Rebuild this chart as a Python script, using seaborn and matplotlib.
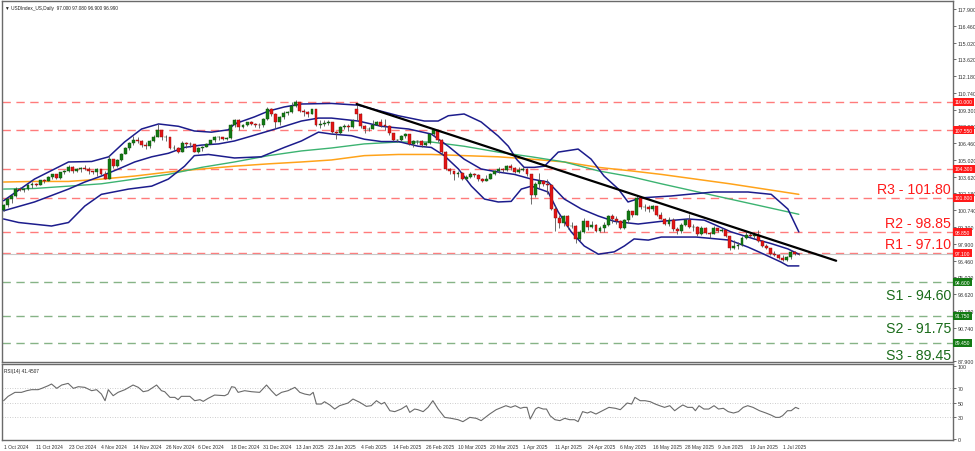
import numpy as np
import pandas as pd
import matplotlib
matplotlib.use("Agg")
import matplotlib.pyplot as plt
import seaborn as sns

sns.set_theme(style="white")
plt.rcParams['font.family'] = ['Liberation Sans', 'DejaVu Sans']

# ---------------- data ----------------
opens = [100.78,101.19,101.68,101.99,102.52,102.49,102.54,102.92,102.99,102.90,103.29,103.25,103.59,103.83,103.49,104.01,104.08,104.41,104.05,104.26,
         104.32,104.29,104.07,103.98,104.28,103.87,103.43,105.08,104.48,104.99,105.54,106.01,106.49,106.77,106.68,106.27,106.21,106.66,107.03,107.55,
         106.95,106.98,106.06,106.08,105.74,106.46,106.36,106.35,105.72,106.06,106.15,106.41,106.70,106.95,106.99,106.85,106.93,107.99,108.41,107.83,
         108.04,108.26,108.13,108.00,107.98,108.49,109.39,108.92,108.26,108.67,109.07,109.15,109.65,109.94,109.24,109.08,108.97,109.35,108.04,108.08,
         108.22,108.27,107.44,107.35,107.86,107.93,107.80,109.40,108.91,107.96,107.63,107.71,108.04,108.30,107.95,107.94,107.30,106.71,106.75,107.09,
         107.23,106.39,106.62,106.66,106.32,106.45,107.24,107.56,106.75,105.74,104.28,104.08,103.84,103.90,103.44,103.61,103.83,103.72,103.40,103.26,
         103.40,103.85,104.09,104.26,104.19,104.55,104.33,104.04,104.21,104.23,103.80,102.07,103.02,103.26,102.96,102.89,100.86,100.10,99.63,100.22,
         99.38,99.38,98.28,98.91,99.84,99.31,99.47,98.99,99.22,99.47,100.26,99.98,99.80,99.24,99.88,100.64,100.34,101.79,101.03,101.05,
         100.84,101.09,100.35,100.04,99.55,99.95,99.11,98.94,99.52,99.89,99.28,99.33,98.70,99.24,98.77,98.76,99.19,99.00,99.09,98.55,
         97.55,97.70,97.75,98.40,98.60,98.55,98.60,98.10,97.70,97.50,97.00,96.95,96.70,96.50,96.72,97.18,97.00]
highs = [101.25,101.78,102.09,102.70,102.69,102.62,103.01,103.16,103.06,103.36,103.42,103.66,103.87,103.86,104.03,104.15,104.57,104.48,104.33,104.44,
         104.63,104.40,104.13,104.38,104.30,104.06,105.44,105.10,105.08,105.60,106.14,106.53,107.07,107.00,106.69,106.58,106.73,107.13,108.07,107.58,
         107.18,107.03,106.27,106.11,106.63,106.52,106.52,106.41,106.16,106.22,106.48,106.76,107.08,107.06,107.03,107.00,108.09,108.54,108.48,108.09,
         108.28,108.38,108.19,108.15,108.58,109.55,109.42,109.00,108.74,109.20,109.23,109.97,110.17,110.01,109.41,109.20,109.40,109.40,108.45,108.40,
         108.45,108.30,107.48,107.95,108.06,108.13,108.55,109.88,109.00,108.05,107.85,108.40,108.37,108.49,108.52,108.00,107.35,106.82,107.16,107.32,
         107.25,106.69,106.77,106.70,106.60,107.28,107.65,107.60,106.82,105.79,104.38,104.10,104.08,104.00,103.74,103.97,103.88,103.81,103.50,103.79,
         103.96,104.18,104.43,104.36,104.60,104.68,104.41,104.42,104.42,104.38,103.83,103.15,103.88,103.34,103.39,102.95,101.07,100.30,100.30,100.31,
         99.78,99.49,99.02,100.06,99.85,99.86,99.58,99.40,99.76,100.38,100.40,100.24,99.90,99.98,100.86,100.70,101.98,101.80,101.26,101.16,
         101.20,101.10,100.59,100.10,100.16,100.05,99.30,99.64,100.03,100.39,99.58,99.38,99.38,99.30,98.91,99.39,99.22,99.27,99.12,98.57,
         98.20,98.02,98.55,98.85,98.84,98.90,99.05,98.25,97.90,97.55,97.25,97.05,96.95,96.85,97.35,97.25,97.08]
lows = [100.72,101.05,101.40,101.85,102.36,102.34,102.44,102.68,102.80,102.88,103.05,103.20,103.44,103.42,103.43,103.87,104.02,103.95,103.98,104.01,
        104.17,103.87,103.81,103.65,103.79,103.37,103.40,104.32,104.44,104.93,105.52,105.84,106.34,106.50,106.14,105.97,106.08,106.55,106.96,106.73,
        106.65,105.99,105.92,105.61,105.72,106.05,106.13,105.67,105.63,105.77,106.12,106.36,106.54,106.73,106.70,106.75,106.86,107.84,107.62,107.76,
        107.96,108.05,107.83,107.73,107.85,108.46,108.81,107.75,108.03,108.51,108.86,109.02,109.53,109.15,108.75,108.69,108.93,107.92,107.77,107.94,
        107.97,107.30,106.86,107.27,107.63,107.50,107.73,108.40,107.78,107.30,107.48,107.65,107.98,107.88,107.60,107.20,106.62,106.56,106.67,106.93,
        106.34,106.12,106.38,106.12,106.20,106.38,107.11,106.60,105.53,104.16,103.87,103.30,103.55,103.34,103.35,103.50,103.59,103.28,103.19,103.21,
        103.37,103.74,103.95,104.03,104.13,104.20,103.92,103.95,104.05,103.65,101.26,101.88,102.68,102.78,102.15,100.78,99.01,99.20,99.38,99.16,
        99.21,97.92,98.14,98.83,99.10,99.25,98.87,98.92,98.93,99.40,99.65,99.58,99.17,99.15,99.67,100.15,100.30,100.86,100.67,100.56,
        100.71,100.25,99.97,99.48,99.41,98.97,98.69,98.79,99.43,99.21,99.00,98.58,98.60,98.70,98.37,98.68,98.86,98.85,98.48,97.35,
        97.40,97.45,97.70,98.28,98.45,98.32,98.00,97.60,97.40,96.90,96.85,96.55,96.38,96.45,96.60,96.95,96.90]
closes = [101.19,101.68,101.99,102.52,102.49,102.54,102.92,102.99,102.90,103.29,103.25,103.59,103.83,103.49,104.01,104.08,104.41,104.05,104.26,104.32,
          104.29,104.07,103.98,104.28,103.87,103.43,105.08,104.48,104.99,105.54,106.01,106.49,106.77,106.68,106.27,106.21,106.66,107.03,107.55,106.95,
          106.98,106.06,106.08,105.74,106.46,106.36,106.35,105.72,106.06,106.15,106.41,106.70,106.95,106.99,106.85,106.93,107.99,108.41,107.83,108.04,
          108.26,108.13,108.00,107.98,108.49,109.39,108.92,108.26,108.67,109.07,109.15,109.65,109.94,109.24,109.08,108.97,109.35,108.04,108.08,108.22,
          108.27,107.44,107.35,107.86,107.93,107.80,108.37,108.91,107.96,107.63,107.71,108.04,108.30,107.95,107.94,107.30,106.71,106.75,107.09,107.23,
          106.39,106.62,106.66,106.32,106.45,107.24,107.56,106.75,105.74,104.28,104.08,103.84,103.90,103.44,103.61,103.83,103.72,103.40,103.26,103.40,
          103.85,104.09,104.26,104.19,104.55,104.33,104.04,104.21,104.23,103.80,102.07,103.02,103.26,102.96,102.89,100.86,100.10,99.63,100.22,99.38,
          99.38,98.28,98.91,99.84,99.31,99.47,98.99,99.22,99.47,100.26,99.98,99.80,99.24,99.88,100.64,100.34,101.79,101.03,101.05,100.84,
          101.09,100.35,100.04,99.55,99.95,99.11,98.94,99.52,99.89,99.28,99.33,98.70,99.24,98.77,98.76,99.19,99.00,99.09,98.55,97.55,
          97.70,97.75,98.40,98.60,98.55,98.60,98.10,97.70,97.50,97.00,96.95,96.70,96.50,96.72,97.18,97.00,96.99]

date_labels = ["1 Oct 2024", "11 Oct 2024", "23 Oct 2024", "4 Nov 2024", "14 Nov 2024", "26 Nov 2024",
               "6 Dec 2024", "18 Dec 2024", "31 Dec 2024", "13 Jan 2025", "23 Jan 2025", "4 Feb 2025",
               "14 Feb 2025", "26 Feb 2025", "10 Mar 2025", "20 Mar 2025", "1 Apr 2025", "11 Apr 2025",
               "24 Apr 2025", "6 May 2025", "16 May 2025", "28 May 2025", "9 Jun 2025", "19 Jun 2025", "1 Jul 2025"]
date_label_bars = [0, 8, 16, 24, 32, 40, 48, 56, 64, 72, 80, 88, 96, 104, 112, 120, 128, 136, 144, 152, 160, 168, 176, 184, 192]

bb_up_bar = [0,7.6,16,21.7,25.9,29.8,34,38.2,43.1,47,51.2,55.4,56.9,61.8,65.3,69.2,73.4,80.8,87.4,97.3,103.7,107.1,109.6,113.5,117.7,
             121.9,124.4,126.4,128.3,130.8,133.3,136.7,141.6,144.8,148,151.5,153.9,157.1,164.5,168.7,175.1,183.5,189.2,193.3,196]
bb_up = [101.56,103.4,104.86,104.9,105.3,106.56,107.67,108.1,107.9,107.5,107.4,107.6,108.1,108.7,109.2,109.55,109.8,109.85,109.7,108.8,108.35,108.35,108.8,108.95,108.27,
         107.07,106.2,105.1,104.4,104.4,104.5,105.7,105.96,105.1,103.66,102.56,101.45,101.8,101.96,102.1,102.3,102.3,102.1,100.85,98.9]
bb_mid_bar = [0,7.6,16,20,24.1,28.3,32.3,36.5,40.6,44.6,48.8,53,56.9,61.1,65.3,69.2,73.4,77.6,80.8,87.4,93.1,99.8,105.4,109.6,113.5,
              117.7,121.9,125.9,130.1,134.2,138.2,142.4,146.6,150.5,153,156.4,162.1,168.7,172.7,179.3,185,189.2,193.3,196]
bb_mid = [100.7,101.45,102.55,103.15,103.66,104.26,104.86,105.3,105.6,106.1,106.3,106.4,106.65,107.07,107.5,107.9,108.35,108.6,108.6,108.35,107.9,107.67,107.24,106.2,105.1,
          104.26,104.0,103.8,103.4,103.15,101.7,100.85,100.25,99.8,99.7,99.57,99.8,100.0,99.9,98.9,98.3,97.9,97.45,97.0]
bb_low_bar = [0,3.7,11.8,16,20,24.1,30.8,36.5,40.6,44.6,47,50.5,56.9,63.5,69.2,73.4,77.6,80.8,85.7,88.9,93.1,97.3,102.2,105.4,108.6,
              112.1,115.3,118.5,121.9,125.1,127.6,130.1,134.2,136.7,139.9,143.1,146.6,150.5,153,155.4,158.9,162.1,170.7,178.9,183.5,187.4,191.6,193.3,196]
bb_low = [100.0,99.7,99.4,99.7,101.1,102.1,102.55,102.8,103.4,104.5,105.4,105.5,105.2,105.3,106.1,106.65,107.4,107.24,107.1,106.8,106.6,106.6,106.2,106.1,105.4,
          104.26,102.8,101.7,101.45,101.5,102.55,102.8,102.3,100.6,98.9,97.7,97.0,97.2,97.7,98.3,98.2,98.46,98.46,98.2,97.6,97.0,96.33,96.0,96.0]

ma_green_bar = [0,7.6,16,24.1,32.3,40.6,48.8,56.9,65.3,73.4,80.8,88.9,97.3,105.4,113.5,121.9,130.1,138.2,146.6,154.7,162.1,179,196]
ma_green = [102.55,102.6,102.8,103.0,103.4,103.8,104.4,104.86,105.4,105.8,106.05,106.4,106.56,106.56,106.2,105.7,105.3,104.86,104.1,103.6,103.0,101.7,100.4]
ma_orange_bar = [0,7.6,16,24.1,32.3,40.6,48.8,56.9,65.3,73.4,80.8,88.9,97.3,105.4,113.5,121.9,130.1,138.2,146.6,154.7,162.1,179,196]
ma_orange = [103.15,103.2,103.2,103.4,103.66,104.0,104.26,104.5,104.7,104.86,105.03,105.4,105.5,105.5,105.4,105.3,105.1,104.86,104.4,104.1,103.8,103.0,102.1]

trend_bar = [87, 205.2]
trend_val = [109.8, 96.44]

resist_levels = [110.0, 107.55, 104.30, 101.80, 98.85, 97.10]
support_levels = [94.60, 91.75, 89.45]
level_names = {101.80: "R3 - 101.80", 98.85: "R2 - 98.85", 97.10: "R1 - 97.10",
               94.60: "S1 - 94.60", 91.75: "S2 - 91.75", 89.45: "S3 - 89.45"}
last_price = 96.99

price_ticks = [117.900, 116.460, 115.020, 113.620, 112.180, 110.740, 109.300, 107.900, 106.460, 105.020,
               103.620, 102.180, 100.740, 99.300, 97.900, 96.460, 95.020, 93.620, 92.180, 90.740, 87.900]

rsi_bar = [0,1.1,2.8,4.4,5.7,6.9,8.5,9.4,11.0,11.8,13.1,14.3,15.9,17.2,18.4,20.0,21.7,22.9,24.1,25.0,25.8,27.0,28.2,29.9,31.9,
           33.2,34.4,35.6,37.7,38.9,39.7,41.0,42.2,43.0,43.8,45.9,47.1,48.4,49.2,50.4,52.0,54.5,55.3,56.2,57.0,57.8,59.4,61.1,63.1,64.8,
           66.0,67.2,68.5,70.1,71.8,73.0,74.2,75.5,76.3,77.1,78.3,79.1,80.4,81.6,82.8,84.9,86.1,87.8,89.4,90.6,91.9,93.1,93.9,95.2,96.4,
           98.0,99.3,100.1,101.3,102.1,103.4,104.6,105.8,107.1,108.7,110.3,112.0,113.2,114.9,116.5,117.7,119.8,121.4,
           123.8,125.0,126.1,127.4,128.2,129.0,129.8,131.1,131.8,133.0,133.8,134.7,135.9,137.1,138.3,139.5,140.7,141.6,142.7,143.9,144.7,
           146.0,147.6,149.2,150.8,152.0,153.7,154.8,155.6,156.9,158.1,159.4,160.6,161.7,162.9,164.2,165.4,166.5,167.4,168.6,169.8,170.5,
           171.4,172.6,173.8,175.1,176.2,177.4,178.6,179.9,181.1,182.3,183.4,184.7,186.3,187.9,189.1,190.3,191.2,192.0,193.2,194.1,195.2,196.0]
rsi_val = [52.5,58.5,64.0,64.0,66.3,67.7,67.7,69.5,73.2,75.5,69.5,74.1,76.4,69.5,71.8,70.9,66.3,67.7,61.7,52.5,67.7,59.4,64.0,67.7,74.1,
           70.9,64.9,66.3,74.1,66.3,64.9,57.1,57.1,53.9,58.5,58.5,52.5,53.9,51.6,55.7,60.3,59.4,61.7,71.8,70.9,64.0,66.3,64.9,64.0,74.1,
           66.3,59.4,64.0,66.3,70.9,64.0,61.7,60.3,64.0,47.9,47.9,51.1,46.6,41.0,45.6,49.3,54.8,50.2,44.7,45.6,52.5,47.9,50.2,38.7,37.4,
           41.0,45.6,36.4,41.0,40.1,37.4,43.3,52.5,41.0,29.5,28.2,26.3,23.6,29.5,28.2,25.0,34.1,40.1,
           45.6,43.3,45.6,42.0,43.3,43.3,27.2,41.0,43.3,41.0,41.0,31.8,26.3,25.0,28.2,26.3,26.3,23.6,37.4,35.5,37.4,
           34.1,38.7,43.3,42.0,40.1,49.3,47.9,57.1,52.5,52.5,51.1,47.9,45.6,43.3,45.6,38.7,43.3,46.6,43.3,43.3,38.7,
           45.6,41.0,41.0,45.6,41.0,42.0,37.4,35.5,37.4,43.3,45.6,43.3,38.7,35.5,32.8,29.5,29.5,31.8,38.7,38.7,43.3,41.45]
rsi_levels = [70, 50, 30]
rsi_ticks = [100, 70, 50, 30, 0]

# ---------------- figure ----------------
W, H = 975, 452
fig = plt.figure(figsize=(W / 100, H / 100), dpi=100)
fig.patch.set_facecolor("white")
ax = fig.add_axes([2 / W, 1 - 363 / H, 951 / W, 361 / H])
axr = fig.add_axes([2 / W, 1 - 441 / H, 951 / W, 76 / H])

small = ["Liberation Sans Narrow", "Liberation Sans", "DejaVu Sans"]

bars = np.arange(len(closes))
o = np.array(opens); c = np.array(closes); hi = np.array(highs); lo = np.array(lows)
up = c >= o
body_low = np.minimum(o, c)
body_h = np.maximum(np.abs(c - o), 0.03)

# level lines
for lv in resist_levels:
    ax.axhline(lv, color="#ff7b7b", lw=1.0, ls=(0, (6, 4)), zorder=1)
for lv in support_levels:
    ax.axhline(lv, color="#86b386", lw=1.0, ls=(0, (6, 4)), zorder=1)
ax.axhline(last_price, color="#c8c8c8", lw=0.8, zorder=1)

# moving averages and bands
sns.lineplot(x=ma_orange_bar, y=ma_orange, ax=ax, color="#ffa31a", lw=1.1, zorder=2)
sns.lineplot(x=ma_green_bar, y=ma_green, ax=ax, color="#3cb371", lw=1.0, zorder=2)
for bx, by in [(bb_up_bar, bb_up), (bb_mid_bar, bb_mid), (bb_low_bar, bb_low)]:
    sns.lineplot(x=bx, y=by, ax=ax, color="#1c1c8c", lw=1.1, zorder=3)

# candles
ax.vlines(bars, lo, hi, color="#555555", lw=0.6, zorder=4)
ax.bar(bars[up], body_h[up], bottom=body_low[up], width=0.72, color="#137a13",
       edgecolor="#0b4d0b", linewidth=0.3, zorder=5)
ax.bar(bars[~up], body_h[~up], bottom=body_low[~up], width=0.72, color="#e31515",
       edgecolor="#8a0b0b", linewidth=0.3, zorder=5)

# trend line
sns.lineplot(x=trend_bar, y=trend_val, ax=ax, color="black", lw=1.6, zorder=6)

ax.set_xlim(-0.4, 234)
ax.set_ylim(87.81, 118.58)

# level labels
for lv, name in level_names.items():
    is_r = lv in resist_levels
    ax.annotate(name, xy=(0.998, lv), xycoords=("axes fraction", "data"),
                xytext=(0, 1.5 if is_r else -4), textcoords="offset points",
                ha="right", va="bottom" if is_r else "top",
                color="#ff1a1a" if is_r else "#1a6b1a", fontsize=10.2,
                family=["Liberation Sans", "DejaVu Sans"], zorder=8)

# price boxes on axis
for lv in resist_levels + support_levels:
    col = "#ff1a1a" if lv in resist_levels else "#137a13"
    ax.annotate(f"{lv:.3f}", xy=(1.0, lv), xycoords=("axes fraction", "data"),
                xytext=(1.2, 0), textcoords="offset points", ha="left", va="center",
                color="white", fontsize=3.6, family=small, annotation_clip=False, zorder=9,
                bbox=dict(boxstyle="square,pad=0.3", fc=col, ec=col, lw=0))

ax.yaxis.tick_right()
ax.set_yticks(price_ticks)
ax.set_yticklabels([f"{t:.3f}" for t in price_ticks], family=small)
ax.tick_params(axis="y", labelsize=3.8, colors="#333333", length=2, width=0.5, pad=1.2, direction="out")
ax.set_xticks([])
ax.set_xlabel(""); ax.set_ylabel("")

ax.text(0.003, 0.99, "\u25bc USDIndex_US,Daily  97.000 97.080 96.900 96.990", transform=ax.transAxes,
        fontsize=3.4, color="#222222", va="top", ha="left", family=small)

# RSI panel
for lv in rsi_levels:
    axr.axhline(lv, color="#bdbdbd", lw=0.6, ls=(0, (1, 2)), zorder=1)
sns.lineplot(x=rsi_bar, y=rsi_val, ax=axr, color="#6a6a6a", lw=0.8, zorder=3)
axr.set_xlim(-0.4, 234)
axr.set_ylim(-1.7, 103.1)
axr.yaxis.tick_right()
axr.set_yticks(rsi_ticks)
axr.set_yticklabels([str(t) for t in rsi_ticks], family=small)
axr.tick_params(axis="y", labelsize=3.8, colors="#333333", length=2, width=0.5, pad=1.2)
axr.set_xticks(date_label_bars)
axr.set_xticklabels(date_labels, family=small)
axr.tick_params(axis="x", labelsize=3.6, colors="#333333", length=2, width=0.5, pad=1.2, direction="out")
for lab in axr.get_xticklabels():
    lab.set_horizontalalignment("left")
axr.set_xlabel(""); axr.set_ylabel("")
axr.text(0.002, 0.95, "RSI(14) 41.4507", transform=axr.transAxes, fontsize=3.4,
         color="#222222", va="top", ha="left", family=small)

for a in (ax, axr):
    for s in a.spines.values():
        s.set_color("#6a6a6a")
        s.set_linewidth(1.0)
    a.grid(False)
    a.set_facecolor("white")
    leg = a.get_legend()
    if leg is not None:
        leg.remove()

fig.savefig("out.png", dpi=100, facecolor="white")
